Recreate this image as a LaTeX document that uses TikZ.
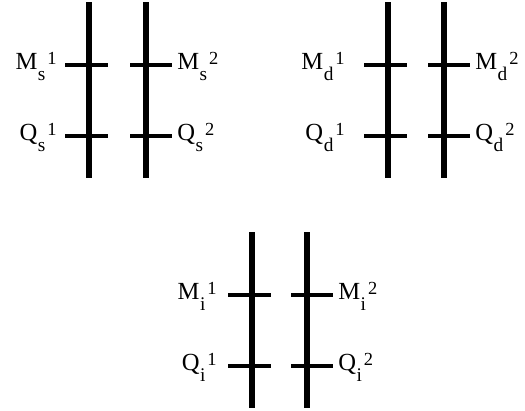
\documentclass[tikz,border=0pt]{standalone}
\usepackage{fontspec}
\setmainfont{Liberation Serif}

% letter with a low subscript and a superscript set after it
\newcommand{\railtag}[3]{#1\kern0.01cm\raisebox{-0.23cm}{\fontsize{11}{13}\selectfont #2}\kern0.04cm\raisebox{0.1cm}{\fontsize{10.5}{12}\selectfont #3}}

\begin{document}
\begin{tikzpicture}[x=0.02cm, y=-0.02cm,
    rail/.style={line width=2.9pt},
    tick/.style={line width=2.3pt},
    lbl/.style={inner sep=0pt, font=\fontsize{14}{16}\selectfont}
]
\useasboundingbox (0,0) rectangle (525,410);

% one pair of rails per group: name / left rail x / right rail x / top y / gap of left labels
\foreach \g/\xa/\xb/\yt/\gap in {s/89/146/2/8, d/388/444/2/19, i/252/307/232/11} {
  % rails
  \coordinate (\g top1) at (\xa,\yt);
  \coordinate (\g bot1) at (\xa,\yt+176);
  \coordinate (\g top2) at (\xb,\yt);
  \coordinate (\g bot2) at (\xb,\yt+176);
  \draw[rail] (\g top1) -- (\g bot1);
  \draw[rail] (\g top2) -- (\g bot2);

  % ticks
  \coordinate (\g m1l) at (\xa-24,\yt+63);
  \coordinate (\g m1r) at (\xa+19,\yt+63);
  \coordinate (\g m2l) at (\xb-16,\yt+63);
  \coordinate (\g m2r) at (\xb+26,\yt+63);
  \coordinate (\g q1l) at (\xa-24,\yt+134);
  \coordinate (\g q1r) at (\xa+19,\yt+134);
  \coordinate (\g q2l) at (\xb-16,\yt+134);
  \coordinate (\g q2r) at (\xb+26,\yt+134);
  \draw[tick] (\g m1l) -- (\g m1r);
  \draw[tick] (\g m2l) -- (\g m2r);
  \draw[tick] (\g q1l) -- (\g q1r);
  \draw[tick] (\g q2l) -- (\g q2r);

  % labels
  \node[lbl, anchor=base east] (\g M1) at (\xa-24-\gap,\yt+67) {\railtag{M}{\g}{1}};
  \node[lbl, anchor=base west] (\g M2) at (\xb+31,\yt+67) {\railtag{M}{\g}{2}};
  \node[lbl, anchor=base east] (\g Q1) at (\xa-24-\gap,\yt+138) {\railtag{Q}{\g}{1}};
  \node[lbl, anchor=base west] (\g Q2) at (\xb+31,\yt+138) {\railtag{Q}{\g}{2}};
}

\end{tikzpicture}
\end{document}
